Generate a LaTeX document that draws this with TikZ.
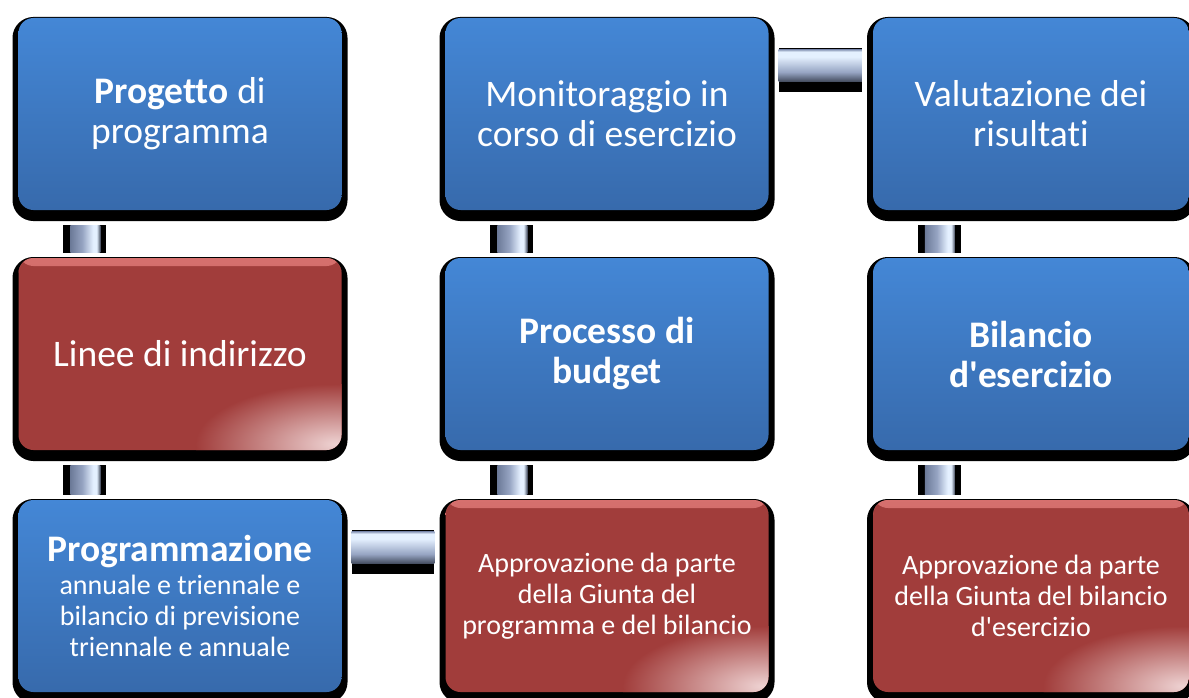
\documentclass[tikz,border=0pt]{standalone}
\usepackage{fontspec}
\setmainfont{Carlito}[Ligatures={NoCommon}]
\usetikzlibrary{shadows}

\definecolor{blueTop}{RGB}{68,135,214}
\definecolor{blueBot}{RGB}{55,106,172}
\definecolor{boxRed}{RGB}{161,61,59}
\definecolor{redTop}{RGB}{214,112,110}
\definecolor{glossRed}{RGB}{238,210,210}
\definecolor{barDark}{RGB}{108,122,152}
\definecolor{barMid}{RGB}{150,164,194}
\definecolor{barLight}{RGB}{228,240,255}

\pgfdeclarehorizontalshading{vbarshade}{100bp}{color(0bp)=(barDark); color(25bp)=(barDark); color(45bp)=(barMid); color(63bp)=(barLight); color(69bp)=(barLight); color(75bp)=(barDark!60!black); color(100bp)=(barDark!60!black)}
\pgfdeclareverticalshading{hbarshade}{100bp}{color(0bp)=(barDark!60!black); color(25bp)=(barDark!60!black); color(40bp)=(barMid); color(64bp)=(barLight); color(72bp)=(barLight); color(75bp)=(barMid); color(100bp)=(barMid)}

\tikzset{
  box/.style={rounded corners=15pt, minimum width=323pt, minimum height=192pt,
    inner sep=0pt, align=center, text=white,
    font=\fontsize{37.5}{40}\selectfont,
    general shadow={fill=black, draw=black, line width=12pt, shadow yshift=-5pt}},
  bluebox/.style={box, top color=blueTop, bottom color=blueBot},
  redbox/.style={box, fill=boxRed, font=\fontsize{28}{31}\selectfont,
    path picture={
      \shade[top color=redTop, bottom color=boxRed]
        (path picture bounding box.north west) rectangle ([yshift=-8pt]path picture bounding box.north east);
      \shade[inner color=glossRed, outer color=boxRed]
        ([xshift=-6pt,yshift=6pt]path picture bounding box.south east) ellipse [x radius=140pt, y radius=60pt];
    }},
  lastcol/.style={minimum width=316pt},
  boldtext/.style={font=\fontsize{37.5}{40}\selectfont\bfseries},
  smalltext/.style={font=\fontsize{28}{31}\selectfont},
  barblack/.style={fill=black},
}

\begin{document}
\begin{tikzpicture}[x=1pt, y=-1pt]
  \useasboundingbox (0,0) rectangle (1189,698);

  \node[bluebox] (progetto) at (180,114) {\textbf{Progetto} di\\programma};
  \node[bluebox] (monitor) at (607,114) {Monitoraggio in\\corso di esercizio};
  \node[bluebox, lastcol] (valutaz) at (1031,114) {Valutazione dei\\risultati};

  \node[redbox, font=\fontsize{37.5}{40}\selectfont] (linee) at (180,354) {Linee di indirizzo};
  \node[bluebox, boldtext] (budget) at (607,354) {Processo di\\budget};
  \node[bluebox, boldtext, lastcol] (bilancio) at (1031,354) {Bilancio\\d\textquotesingle esercizio};

  \node[bluebox, smalltext] (programmaz) at (180,596)
    {{\fontsize{37.5}{40}\selectfont\bfseries Programmazione}\\[2pt]annuale e triennale e\\bilancio di previsione\\triennale e annuale};
  \node[redbox] (approvprog) at (607,596)
    {Approvazione da parte\\della Giunta del\\programma e del bilancio};
  \node[redbox, lastcol] (approvbil) at (1031,596)
    {Approvazione da parte\\della Giunta del bilancio\\d\textquotesingle esercizio};

  \foreach \a/\b in {progetto/linee, linee/programmaz, monitor/budget, budget/approvprog, valutaz/bilancio, bilancio/approvbil}{
    \fill[barblack] ([xshift=45pt,yshift=-15pt]\a.south west) rectangle ([xshift=88pt,yshift=5pt]\b.north west);
    \shade[shading=vbarshade] ([xshift=52pt,yshift=-15pt]\a.south west) rectangle ([xshift=82pt,yshift=5pt]\b.north west);
  }

  \foreach \a/\b in {programmaz/approvprog, monitor/valutaz}{
    \fill[barblack] ([xshift=10pt,yshift=-30pt]\a.north east) rectangle ([xshift=-11pt,yshift=-74pt]\b.north west);
    \shade[shading=hbarshade] ([xshift=10pt,yshift=-32pt]\a.north east) rectangle ([xshift=-11pt,yshift=-64pt]\b.north west);
  }

\end{tikzpicture}
\end{document}
